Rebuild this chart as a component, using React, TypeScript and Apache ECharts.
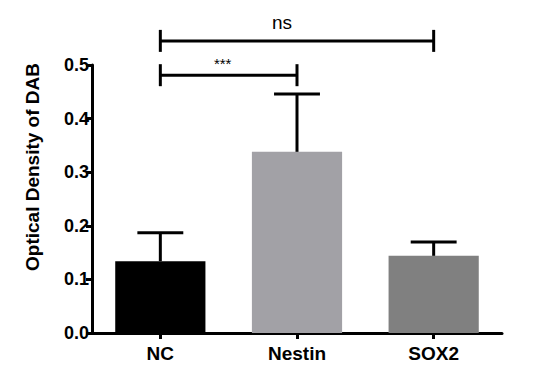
import React, { useEffect, useRef } from "react";
import * as echarts from "echarts";

const categories = ["NC", "Nestin", "SOX2"];
const means = [0.134, 0.338, 0.144];
const upperErrors = [0.187, 0.446, 0.17];
const barColors = ["#000000", "#a2a1a6", "#808080"];
const yTicks = [0, 0.1, 0.2, 0.3, 0.4, 0.5];
const brackets = [
  { from: 0, to: 1, y: 0.481, label: "***" },
  { from: 0, to: 2, y: 0.545, label: "ns" },
];
const yTitle = "Optical Density of DAB";

const FONT = "'Liberation Sans', Arial, Helvetica, sans-serif";

export default function App() {
  const ref = useRef<HTMLDivElement>(null);
  useEffect(() => {
    if (!ref.current) return;
    const chart = echarts.init(ref.current, undefined, { renderer: "svg" });
    chart.setOption({
      animation: false,
      backgroundColor: "#ffffff",
      grid: { left: 92, right: 34, top: 65, bottom: 45, containLabel: false },
      graphic: [
        {
          type: "text",
          x: 32,
          y: 167,
          rotation: Math.PI / 2,
          style: {
            text: yTitle,
            fontFamily: FONT,
            fontWeight: "bold",
            fontSize: 19,
            fill: "#000",
            textAlign: "center",
            textVerticalAlign: "middle",
          },
        },
      ],
      xAxis: {
        type: "category",
        data: categories,
        axisLine: { show: true, lineStyle: { color: "#000", width: 3 } },
        axisTick: { show: true, alignWithLabel: true, length: 6, lineStyle: { color: "#000", width: 3 } },
        axisLabel: {
          color: "#000",
          fontFamily: FONT,
          fontWeight: "bold",
          fontSize: 19,
          margin: 11,
        },
        splitLine: { show: false },
      },
      yAxis: {
        type: "value",
        min: yTicks[0],
        max: yTicks[yTicks.length - 1],
        interval: 0.1,
        axisLine: { show: true, lineStyle: { color: "#000", width: 3 } },
        axisTick: { show: true, length: 6, lineStyle: { color: "#000", width: 3 } },
        axisLabel: {
          color: "#000",
          fontFamily: FONT,
          fontWeight: "bold",
          fontSize: 18,
          margin: 3,
          formatter: (v: number) => v.toFixed(1),
        },
        splitLine: { show: false },
      },
      series: [
        {
          type: "bar",
          barWidth: "66%",
          data: means.map((v, i) => ({ value: v, itemStyle: { color: barColors[i] } })),
          z: 2,
        },
        {
          type: "custom",
          z: 3,
          data: means.map((m, i) => [i, m, upperErrors[i]]),
          renderItem: (params: any, api: any) => {
            const i = api.value(0);
            const lo = api.coord([i, api.value(1)]);
            const hi = api.coord([i, api.value(2)]);
            const band = api.size([1, 0])[0];
            const half = band * 0.168;
            return {
              type: "group",
              children: [
                {
                  type: "line",
                  shape: { x1: lo[0], y1: lo[1], x2: hi[0], y2: hi[1] },
                  style: { stroke: "#000", lineWidth: 3 },
                },
                {
                  type: "line",
                  shape: { x1: hi[0] - half, y1: hi[1], x2: hi[0] + half, y2: hi[1] },
                  style: { stroke: "#000", lineWidth: 3 },
                },
              ],
            };
          },
        },
        {
          type: "custom",
          z: 4,
          clip: false,
          data: brackets.map((b) => [b.from, b.to, b.y]),
          renderItem: (params: any, api: any) => {
            const b = brackets[params.dataIndex];
            const p1 = api.coord([api.value(0), api.value(2)]);
            const p2 = api.coord([api.value(1), api.value(2)]);
            const isStars = b.label === "***";
            return {
              type: "group",
              children: [
                {
                  type: "line",
                  shape: { x1: p1[0], y1: p1[1], x2: p2[0], y2: p2[1] },
                  style: { stroke: "#000", lineWidth: 3 },
                },
                {
                  type: "line",
                  shape: { x1: p1[0], y1: p1[1] - 11, x2: p1[0], y2: p1[1] + 11 },
                  style: { stroke: "#000", lineWidth: 3 },
                },
                {
                  type: "line",
                  shape: { x1: p2[0], y1: p2[1] - 11, x2: p2[0], y2: p2[1] + 11 },
                  style: { stroke: "#000", lineWidth: 3 },
                },
                {
                  type: "text",
                  x: (p1[0] + p2[0]) / 2 - (isStars ? 6 : 15),
                  y: p1[1] - (isStars ? 4 : 9),
                  style: {
                    text: b.label,
                    fontFamily: FONT,
                    fontSize: isStars ? 15 : 19,
                    fill: "#000",
                    textAlign: "center",
                    textVerticalAlign: "bottom",
                  },
                },
              ],
            };
          },
        },
      ],
    });
    return () => chart.dispose();
  }, []);
  return <div ref={ref} style={{ width: 536, height: 378, position: "absolute", left: 0, top: 0 }} />;
}
